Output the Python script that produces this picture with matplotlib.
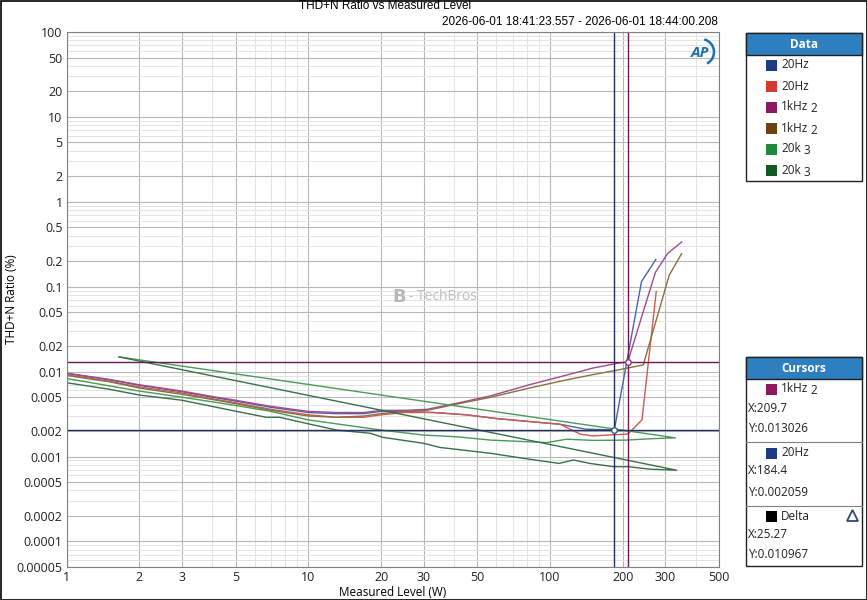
import matplotlib
matplotlib.use("Agg")
import matplotlib.pyplot as plt
from matplotlib.patches import Rectangle, Arc, Polygon
from matplotlib.lines import Line2D
from matplotlib.ticker import FixedLocator, NullFormatter

plt.rcParams['font.family'] = ['Open Sans', 'DejaVu Sans']

# dados
blue_x = [1, 1.5, 2, 3, 4, 5, 7, 10, 13, 17, 20, 25, 33, 45, 60, 80, 110, 140, 184.4, 239, 274]
blue_y = [0.0095, 0.0080, 0.0069, 0.0058, 0.0050, 0.0045, 0.0038, 0.0033, 0.0032, 0.0032, 0.0034,
          0.0034, 0.0033, 0.0031, 0.0028, 0.0026, 0.0024, 0.0021, 0.002059, 0.115, 0.21]

red_x = [1, 1.5, 2, 3, 4, 5, 7, 10, 13, 17, 20, 25, 33, 45, 60, 80, 110, 133, 150, 180, 210, 240, 275]
red_y = [0.0092, 0.0077, 0.0066, 0.0056, 0.0048, 0.0043, 0.0036, 0.0031, 0.0029, 0.0029, 0.0031,
         0.0033, 0.0033, 0.0031, 0.0028, 0.0026, 0.0024, 0.00184, 0.00175, 0.0018, 0.00184, 0.0027, 0.088]

purple_x = [1, 1.5, 2, 3, 4, 5, 7, 10, 13, 17, 20, 25, 31, 42, 57, 82, 117, 150, 189, 209.7, 245, 273, 306, 350]
purple_y = [0.0096, 0.0081, 0.0070, 0.0059, 0.0051, 0.0046, 0.0039, 0.0034, 0.0033, 0.0033, 0.0035,
            0.0035, 0.0036, 0.0043, 0.0052, 0.0070, 0.0091, 0.011, 0.0125, 0.013026, 0.055, 0.148, 0.245, 0.336]

brown_x = [1, 1.5, 2, 3, 4, 5, 7, 10, 13, 17, 20, 25, 31, 42, 57, 82, 117, 150, 189, 243, 311, 350]
brown_y = [0.0090, 0.0076, 0.0064, 0.0054, 0.0047, 0.0042, 0.0035, 0.0030, 0.0029, 0.0030, 0.0032,
           0.0034, 0.0035, 0.0042, 0.0050, 0.0064, 0.0080, 0.0092, 0.0104, 0.0120, 0.136, 0.245]

green1_x = [1, 1.5, 2, 3, 5, 7, 10, 20, 30, 41, 57, 97, 117, 150, 205, 260, 330, 1.646]
green1_y = [0.0083, 0.0068, 0.0059, 0.0050, 0.0040, 0.0034, 0.0027, 0.00205, 0.00179, 0.00171,
            0.00156, 0.00146, 0.0016, 0.00155, 0.00156, 0.00162, 0.00166, 0.0149]

green2_x = [1, 1.5, 2, 3, 4.8, 6.7, 7.6, 9.8, 13.1, 18, 20.4, 30, 35, 57, 78, 109, 125, 146, 183, 210,
            259, 334, 1.646]
green2_y = [0.0074, 0.0062, 0.0053, 0.0046, 0.0035, 0.0029, 0.0029, 0.00246, 0.00205, 0.00188, 0.00168,
            0.00143, 0.00128, 0.00109, 0.00095, 0.00083, 0.00091, 0.00083, 0.00076, 0.00076, 0.00071,
            0.00069, 0.0149]

legend_labels = ["20Hz", "20Hz", "1kHz", "1kHz", "20k", "20k"]
legend_sub = ["", "", "2", "2", "3", "3"]
legend_colors = ["#1f3a85", "#d23a30", "#8a1a60", "#6b4312", "#1e8a3a", "#125a22"]
line_colors = ["#4a64a8", "#d05a50", "#a04a90", "#8a7040", "#4a9a5a", "#3a7048"]

cursor1 = (209.7, 0.013026)   # 1kHz 2
cursor2 = (184.4, 0.002059)   # 20Hz
delta = (25.27, 0.010967)

x_ticks = [1, 2, 3, 5, 10, 20, 30, 50, 100, 200, 300, 500]
y_ticks = [100, 50, 20, 10, 5, 2, 1, 0.5, 0.2, 0.1, 0.05, 0.02, 0.01, 0.005, 0.002, 0.001,
           0.0005, 0.0002, 0.0001, 0.00005]

W, H = 867, 600
fig = plt.figure(figsize=(W / 100, H / 100), dpi=100)


def fx(px):
    return px / W


def fy(py):
    return 1 - py / H


# eixo principal
ax = fig.add_axes([fx(66.7), fy(567), fx(719) - fx(66.7), fy(32) - fy(567)])
ax.set_xscale("log")
ax.set_yscale("log")
ax.set_xlim(1, 500)
ax.set_ylim(0.00005, 100)

ax.xaxis.set_major_locator(FixedLocator(x_ticks))
ax.set_xticklabels([str(v) for v in x_ticks])
ax.yaxis.set_major_locator(FixedLocator(y_ticks))
ax.set_yticklabels([("%g" % v) if v >= 0.0001 else "0.00005" for v in y_ticks])
minor_x = [m * 10 ** d for d in range(0, 3) for m in range(2, 10) if m * 10 ** d not in x_ticks and m * 10 ** d < 500]
minor_y = [m * 10.0 ** d for d in range(-5, 2) for m in range(1, 10)]
minor_y = [v for v in minor_y if 0.00005 < v < 100 and not any(abs(v - t) / t < 1e-6 for t in y_ticks)]
ax.xaxis.set_minor_locator(FixedLocator(minor_x))
ax.yaxis.set_minor_locator(FixedLocator(minor_y))
ax.xaxis.set_minor_formatter(NullFormatter())
ax.yaxis.set_minor_formatter(NullFormatter())
ax.tick_params(which="both", length=0, labelsize=9, colors="#222222", pad=3)
ax.grid(which="major", color="#b8b8b8", lw=0.8)
ax.grid(which="minor", color="#e4e4e4", lw=0.7)
ax.set_axisbelow(True)
for s in ax.spines.values():
    s.set_color("#808080")
    s.set_linewidth(0.8)

series = [(blue_x, blue_y), (red_x, red_y), (purple_x, purple_y), (brown_x, brown_y),
          (green1_x, green1_y), (green2_x, green2_y)]
for (xs, ys), c in zip(series, line_colors):
    ax.plot(xs, ys, color=c, lw=1.0)

# cursores
ax.axvline(cursor2[0], color="#1f2f60", lw=1.0)
ax.axhline(cursor2[1], color="#1f2f60", lw=1.0)
ax.axvline(cursor1[0], color="#6a1a50", lw=1.0)
ax.axhline(cursor1[1], color="#6a1a50", lw=1.0)
ax.plot(*cursor2, marker="o", ms=4, mfc="white", mec="#3a5a8a", mew=1.0)
ax.plot(*cursor1, marker="o", ms=4, mfc="white", mec="#8a3a70", mew=1.0)

ax.set_xlabel("Measured Level (W)", fontsize=8.5, labelpad=1)
ax.set_ylabel("THD+N Ratio (%)", fontsize=8.5)
ax.yaxis.set_label_coords(-0.074, 0.5)

# marca d'água e logo
ax.text(0.52, 0.505, "B", transform=ax.transAxes, fontsize=13, color="#b8b8b8", fontweight="bold",
        ha="right", va="center", family=["DejaVu Sans"])
ax.text(0.525, 0.505, "- TechBros", transform=ax.transAxes, fontsize=10, color="#c0c0c0",
        ha="left", va="center")
fig.text(fx(700), fy(53), "AP", fontsize=11, color="#1f6fb5", fontweight="bold",
         fontstyle="italic", ha="center", va="center")
fig.add_artist(Arc((fx(701), fy(52)), 26 / W, 26 / H, theta1=-70, theta2=80,
                   color="#1f6fb5", lw=1.8, transform=fig.transFigure))

# títulos
fig.text(fx(385), fy(6), "THD+N Ratio vs Measured Level", fontsize=8.5, ha="center", va="center",
         family=["Liberation Sans Narrow", "Liberation Sans"])
fig.text(fx(718), fy(22), "2026-06-01 18:41:23.557 - 2026-06-01 18:44:00.208", fontsize=8.5,
         ha="right", va="center", family=["Liberation Sans Narrow", "Liberation Sans"])

# borda externa
fig.add_artist(Rectangle((0.5 / W, 0.5 / H), 1 - 1 / W, 1 - 1 / H, fill=False, ec="black", lw=1.2,
                         transform=fig.transFigure))


def panel(top, bottom, title):
    fig.add_artist(Rectangle((fx(746), fy(bottom)), fx(862) - fx(746), fy(top) - fy(bottom),
                             fc="white", ec="#202020", lw=1.0, transform=fig.transFigure))
    fig.add_artist(Rectangle((fx(746), fy(top + 22)), fx(862) - fx(746), fy(top) - fy(top + 22),
                             fc="#2e7fbf", ec="#202020", lw=1.0, transform=fig.transFigure))
    fig.text(fx(804), fy(top + 12), title, color="white", fontsize=8.5, fontweight="bold",
             ha="center", va="center")


def entry(px, py, color, label, sub=""):
    fig.add_artist(Rectangle((fx(px), fy(py + 5.5)), 11 / W, 11 / H, fc=color, ec="none",
                             transform=fig.transFigure))
    t = fig.text(fx(px + 15), fy(py), label, fontsize=8.5, ha="left", va="center", color="#222222")
    if sub:
        fig.text(fx(px + 19 + 6.3 * len(label)), fy(py + 2), sub, fontsize=8.5, ha="left",
                 va="center", color="#222222")
    return t


panel(33, 181, "Data")
for i, (lab, sub, c) in enumerate(zip(legend_labels, legend_sub, legend_colors)):
    entry(766, 65 + 21 * i, c, lab, sub)

panel(357, 566, "Cursors")
entry(766, 389, legend_colors[2], "1kHz", "2")
fig.text(fx(748), fy(408), "X:%g" % cursor1[0], fontsize=8.5, va="center", color="#222222")
fig.text(fx(748), fy(428), "Y:%.6f" % cursor1[1], fontsize=8.5, va="center", color="#222222")
fig.add_artist(Line2D([fx(746), fx(862)], [fy(442), fy(442)], color="#808080", lw=0.8,
                      transform=fig.transFigure))
entry(766, 453, legend_colors[0], "20Hz")
fig.text(fx(748), fy(471), "X:%g" % cursor2[0], fontsize=8.5, va="center", color="#222222")
fig.text(fx(748), fy(492), "Y:%.6f" % cursor2[1], fontsize=8.5, va="center", color="#222222")
fig.add_artist(Line2D([fx(746), fx(862)], [fy(506), fy(506)], color="#808080", lw=0.8,
                      transform=fig.transFigure))
entry(766, 516, "black", "Delta")
fig.add_artist(Polygon([[fx(847), fy(521)], [fx(858), fy(521)], [fx(852.5), fy(510)]], closed=True,
                       fill=False, ec="#2a4a7a", lw=1.3, transform=fig.transFigure))
fig.text(fx(748), fy(535), "X:%.2f" % delta[0], fontsize=8.5, va="center", color="#222222")
fig.text(fx(748), fy(555), "Y:%.6f" % delta[1], fontsize=8.5, va="center", color="#222222")

fig.savefig("out.png", dpi=100)
